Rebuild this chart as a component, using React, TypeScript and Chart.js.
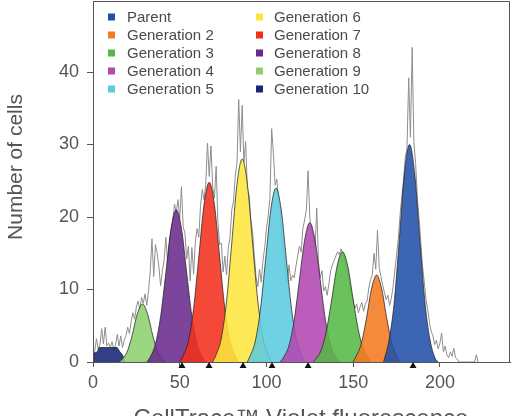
import React, { useEffect, useRef } from 'react';
import { Chart, registerables } from 'chart.js';

Chart.register(...registerables);

const FONT = '"Liberation Sans", Arial, Helvetica, sans-serif';

// ---- data ----
const generationLabels = [
  'Parent', 'Generation 2', 'Generation 3', 'Generation 4', 'Generation 5',
  'Generation 6', 'Generation 7', 'Generation 8', 'Generation 9', 'Generation 10',
];
const generationColors = [
  '#2150a8', '#f47a22', '#56b846', '#b248b2', '#5ccbe0',
  '#fce63e', '#f2301c', '#6a2a8c', '#8ecf6e', '#172676',
];

// fitted peaks: [fluorescence, cells]
const parentPeak = [[167.5, 0], [170.5, 2.8], [173.5, 7.9], [176.5, 16.6], [179.5, 25.9], [182.5, 30], [185.5, 25.9], [188.5, 16.6], [191.5, 7.9], [194.5, 2.8], [197.5, 0.4], [199, 0]];
const gen2Peak = [[150, 0], [151.5, 0.7], [154.5, 2.4], [157.5, 5.8], [160.5, 10.0], [163.5, 12], [166.5, 10.0], [169.5, 5.8], [172.5, 2.4], [175.5, 0.7], [177, 0]];
const gen3Peak = [[127, 0], [128.8, 0.5], [131.8, 1.8], [134.8, 4.6], [137.8, 8.9], [140.8, 13.3], [143.8, 15.2], [146.8, 13.3], [149.8, 8.9], [152.8, 4.6], [155.8, 1.8], [158.8, 0.5], [160, 0]];
const gen4Peak = [[108, 0], [110, 0.7], [113, 2.3], [116, 5.8], [119, 11.3], [122, 16.8], [125, 19.2], [128, 16.8], [131, 11.3], [134, 5.8], [137, 2.3], [140, 0.7], [142, 0]];
const gen5Peak = [[89, 0], [90.5, 0.8], [93.5, 2.8], [96.5, 7.2], [99.5, 14.1], [102.5, 21], [105.5, 24], [108.5, 21], [111.5, 14.1], [114.5, 7.2], [117.5, 2.8], [120.5, 0.8], [122, 0]];
const gen6Peak = [[69, 0], [71, 1.0], [74, 3.3], [77, 8.4], [80, 16.4], [83, 24.5], [86, 28], [89, 24.5], [92, 16.4], [95, 8.4], [98, 3.3], [101, 1.0], [103, 0]];
const gen7Peak = [[50, 0], [52, 0.9], [55, 2.9], [58, 7.4], [61, 14.5], [64, 21.7], [67, 24.8], [70, 21.7], [73, 14.5], [76, 7.4], [79, 2.9], [82, 0.9], [84, 0]];
const gen8Peak = [[31, 0], [33, 0.7], [36, 2.5], [39, 6.3], [42, 12.3], [45, 18.4], [48, 21], [51, 18.4], [54, 12.3], [57, 6.3], [60, 2.5], [63, 0.7], [65, 0]];
const gen9Peak = [[15, 0], [16.5, 0.3], [19.5, 1.3], [22.5, 3.6], [25.5, 6.6], [28.5, 8], [31.5, 6.6], [34.5, 3.6], [37.5, 1.3], [40.5, 0.3], [42, 0]];
const gen10Peak = [[0, 0], [0.5, 1.2], [2.5, 1.4], [3.5, 2.0], [14, 2.0], [15.5, 1.4], [17, 1.0], [18.5, 0]];

const generationPeaks = [parentPeak, gen2Peak, gen3Peak, gen4Peak, gen5Peak, gen6Peak, gen7Peak, gen8Peak, gen9Peak, gen10Peak];

// raw histogram (grey trace)
const rawHistogram = [
  [0, 0], [1, 1.5], [2, 3.2], [3, 1.8], [4, 2.4], [5, 4.6], [6, 2.5], [7, 4.8], [8, 2.2], [9, 2.6], [10, 2.0], [11, 2.8], [12, 1.6], [13, 2.4], [14, 3.8], [15, 2.2], [16, 3.6], [17, 2.0], [18, 3.0],
  [19, 3.6], [20, 4.8], [21, 3.9], [22, 5.6], [23, 6.8], [24, 5.9], [25, 7.6], [26, 8.4], [27, 7.2], [28, 8.9], [29, 8.1], [30, 9.4], [31, 7.8], [32, 9.8], [33, 12.5], [34, 17.0], [35, 11.8], [36, 16.2], [37, 15.0], [38, 13.1], [39, 10.5], [40, 12.6], [41, 14.0], [42, 17.2], [43, 13.8], [44, 16.5],
  [45, 18.2], [46, 19.5], [47, 21.8], [48, 20.6], [49, 22.4], [50, 19.8], [51, 24.2], [52, 18.6], [53, 17.8], [54, 14.2], [55, 16.0], [56, 11.2], [57, 15.8], [58, 12.1], [59, 16.6],
  [60, 18.4], [61, 17.2], [62, 21.6], [63, 23.8], [64, 22.4], [65, 24.5], [66, 30.2], [67, 25.6], [68, 29.8], [69, 24.1], [70, 22.6], [71, 27.0], [72, 19.4], [73, 16.2], [74, 16.4], [75, 12.4], [76, 14.6], [77, 12.0],
  [78, 15.8], [79, 17.2], [80, 21.0], [81, 22.2], [82, 25.6], [83, 27.4], [84, 36.2], [85, 29.0], [86, 35.4], [87, 27.6], [88, 30.4], [89, 23.8], [90, 23.0], [91, 19.6], [92, 18.0], [93, 14.6], [94, 11.8], [95, 10.4], [96, 12.8], [97, 11.0],
  [98, 14.0], [99, 15.8], [100, 18.4], [101, 20.2], [102, 22.6], [103, 32.2], [104, 28.8], [105, 24.4], [106, 25.2], [107, 22.0], [108, 21.2], [109, 17.0], [110, 15.4], [111, 12.2], [112, 11.0], [113, 13.4], [114, 11.2], [115, 12.0], [116, 11.6],
  [117, 13.2], [118, 14.6], [119, 16.0], [120, 15.2], [121, 18.4], [122, 19.6], [123, 21.0], [124, 26.4], [125, 19.8], [126, 18.2], [127, 17.4], [128, 15.6], [129, 21.2], [130, 13.8], [131, 11.6], [132, 12.6], [133, 9.8], [134, 10.4],
  [135, 9.2], [136, 10.8], [137, 12.6], [138, 13.4], [139, 14.0], [140, 14.6], [141, 15.2], [142, 14.8], [143, 15.6], [144, 15.0], [145, 14.2], [146, 13.0], [147, 12.2], [148, 10.6], [149, 9.4], [150, 8.2], [151, 7.4], [152, 8.0], [153, 6.8],
  [154, 7.6], [155, 8.2], [156, 7.0], [157, 8.0], [158, 8.4], [159, 10.2], [160, 11.4], [161, 12.0], [162, 15.0], [163, 12.8], [164, 18.2], [165, 13.0], [166, 11.8], [167, 10.6], [168, 9.6], [169, 8.6], [170, 9.2], [171, 7.8],
  [172, 8.8], [173, 10.4], [174, 12.6], [175, 14.8], [176, 17.0], [177, 20.2], [178, 22.8], [179, 25.0], [180, 28.2], [181, 29.4], [182, 39.2], [183, 31.0], [184, 43.4], [185, 30.2], [186, 27.4], [187, 22.6], [188, 19.8], [189, 16.4], [190, 13.2], [191, 11.0], [192, 8.6], [193, 7.2], [194, 5.4], [195, 4.2], [196, 3.6], [197, 2.4], [198, 3.0], [199, 1.8], [200, 2.6], [201, 4.0], [202, 1.4], [203, 2.2], [204, 1.0], [205, 0.6], [206, 1.4], [207, 0.8], [208, 1.9], [209, 0.6], [210, 0.4], [211, 0], [220, 0], [221, 1.0], [222, 0],
];

// peak position markers below the axis
const markerX = [51.3, 66.9, 86.5, 103.2, 124, 184.5];
const markerY = -0.55;

const xTicks = [0, 50, 100, 150, 200];
const yTicks = [0, 10, 20, 30, 40];
const xMin = 0, xMax = 240.4, yMin = 0, yMax = 49.8;

const xTitle = 'CellTrace™ Violet fluorescence';
const yTitle = 'Number of cells';

function rgba(hex: string, a: number) {
  const n = parseInt(hex.slice(1), 16);
  return `rgba(${(n >> 16) & 255},${(n >> 8) & 255},${n & 255},${a})`;
}

const framePlugin = {
  id: 'frameAndText',
  afterDraw(chart: any) {
    const ctx = chart.ctx;
    const xs = chart.scales.x;
    const ys = chart.scales.y;
    const L = Math.round(xs.left) + 0.5;
    const R = Math.round(xs.right) - 0.5;
    const T = Math.round(ys.top) + 0.5;
    const B = Math.round(ys.bottom) + 0.5;
    ctx.save();
    ctx.strokeStyle = '#555';
    ctx.lineWidth = 1;
    ctx.beginPath();
    ctx.moveTo(L, B);
    ctx.lineTo(L, T);
    ctx.lineTo(R, T);
    ctx.lineTo(R, B);
    ctx.stroke();
    // legend
    ctx.font = `15px ${FONT}`;
    ctx.textBaseline = 'middle';
    ctx.textAlign = 'left';
    generationLabels.forEach((lab, i) => {
      const col = i < 5 ? 0 : 1;
      const row = i % 5;
      const sx = col === 0 ? 108 : 256;
      const tx = col === 0 ? 127 : 274;
      const cy = 17 + row * 18;
      ctx.fillStyle = generationColors[i];
      ctx.fillRect(sx, cy - 3.5, 7, 7);
      ctx.fillStyle = '#4a4a4a';
      ctx.fillText(lab, tx, cy + 0.5);
    });
    // axis titles
    ctx.fillStyle = '#555';
    ctx.font = `21px ${FONT}`;
    ctx.save();
    ctx.translate(16, 167);
    ctx.rotate(-Math.PI / 2);
    ctx.textAlign = 'center';
    ctx.textBaseline = 'middle';
    ctx.fillText(yTitle, 0, 0);
    ctx.restore();
    ctx.font = `24px ${FONT}`;
    ctx.textAlign = 'center';
    ctx.textBaseline = 'alphabetic';
    ctx.fillText(xTitle, 301, 426);
    ctx.restore();
  },
};

export default function App() {
  const ref = useRef<HTMLCanvasElement | null>(null);
  useEffect(() => {
    if (!ref.current) return;
    const peakSets = generationPeaks.map((pts, i) => ({
      type: 'line',
      label: generationLabels[i],
      data: pts.map(([x, y]) => ({ x, y })),
      backgroundColor: rgba(generationColors[i], 0.88),
      borderColor: 'rgba(35,35,35,0.75)',
      borderWidth: 1,
      fill: 'origin',
      pointRadius: 0,
      tension: i === 9 ? 0 : 0.4,
      cubicInterpolationMode: i === 9 ? 'default' : 'monotone',
      order: 2 + i,
    }));
    const chart = new Chart(ref.current, {
      type: 'line',
      data: {
        datasets: [
          {
            type: 'scatter',
            label: 'markers',
            data: markerX.map((x) => ({ x, y: markerY })),
            pointStyle: 'triangle',
            pointRadius: 4,
            backgroundColor: '#111',
            borderColor: '#111',
            borderWidth: 0,
            clip: false,
            order: 0,
          },
          ...peakSets,
          {
            type: 'line',
            label: 'raw',
            data: rawHistogram.map(([x, y]) => ({ x, y })),
            borderColor: '#8e8e8e',
            borderWidth: 1,
            pointRadius: 0,
            fill: false,
            tension: 0,
            order: 30,
          },
        ] as any,
      },
      options: {
        animation: false,
        responsive: false,
        maintainAspectRatio: false,
        events: [],
        layout: { autoPadding: false, padding: { left: 0, right: 2, top: 1, bottom: 0 } },
        plugins: { legend: { display: false }, tooltip: { enabled: false }, title: { display: false } },
        scales: {
          x: {
            type: 'linear',
            min: xMin,
            max: xMax,
            afterBuildTicks: (s: any) => { s.ticks = xTicks.map((v) => ({ value: v })); },
            afterFit: (s: any) => { s.height = 54; s.paddingLeft = 0; s.paddingRight = 0; },
            grid: { display: true, drawOnChartArea: false, drawTicks: true, tickLength: 5, color: '#555' },
            border: { display: true, color: '#555' },
            ticks: { color: '#555', font: { family: FONT, size: 18 }, padding: 5, maxRotation: 0 },
          },
          y: {
            type: 'linear',
            min: yMin,
            max: yMax,
            afterBuildTicks: (s: any) => { s.ticks = yTicks.map((v) => ({ value: v })); },
            afterFit: (s: any) => { s.width = 93; s.paddingTop = 0; s.paddingBottom = 0; },
            grid: { display: true, drawOnChartArea: false, drawTicks: true, tickLength: 6, color: '#555' },
            border: { display: true, color: '#555' },
            ticks: { color: '#555', font: { family: FONT, size: 18 }, padding: 8 },
          },
        },
      },
      plugins: [framePlugin],
    } as any);
    return () => chart.destroy();
  }, []);
  return (
    <div style={{ position: 'fixed', left: 0, top: 0, width: 512, height: 416, background: '#fff' }}>
      <canvas ref={ref} width={512} height={416} style={{ width: 512, height: 416 }} />
    </div>
  );
}
